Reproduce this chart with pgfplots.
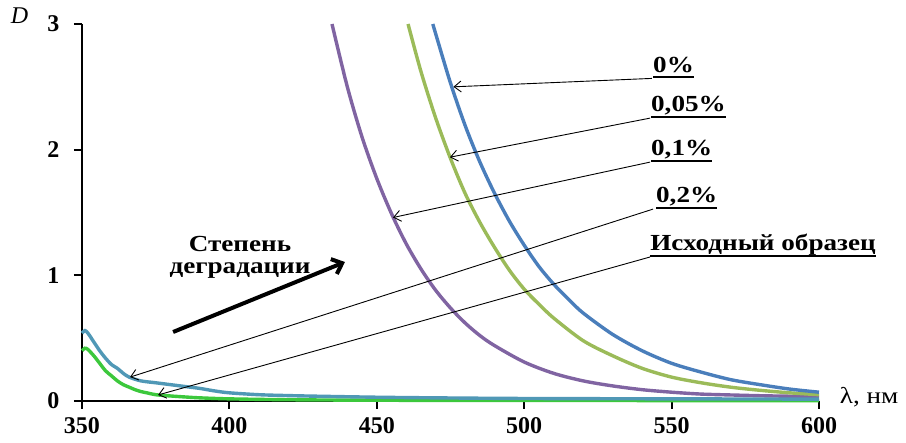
\documentclass[border=0pt]{standalone}
\usepackage{fontspec}
\setmainfont{Liberation Serif}
\newfontfamily\annfont[FakeStretch=1.18]{Liberation Serif}
\usepackage{pgfplots}
\pgfplotsset{compat=1.18}
\usetikzlibrary{arrows.meta}

\definecolor{cZero}{RGB}{74,126,187}
\definecolor{cFive}{RGB}{155,187,89}
\definecolor{cTen}{RGB}{128,100,162}
\definecolor{cTwenty}{RGB}{80,152,182}
\definecolor{cBase}{RGB}{60,200,60}

% thick underline for the series labels
\newcommand\ul[1]{\setbox0\hbox{#1}\rlap{\rule[-6pt]{\wd0}{1.8pt}}\box0}

\begin{document}
\begin{tikzpicture}
\path[use as bounding box] (0,0) rectangle (906pt,443pt);
\begin{axis}[
  at={(82pt,42pt)}, anchor=south west,
  scale only axis, width=737pt, height=377pt,
  xmin=350, xmax=600, ymin=0, ymax=3,
  axis x line*=bottom, axis y line*=left,
  axis line style={line width=2.4pt, black},
  xtick={350,400,450,500,550,600}, ytick={0,1,2,3},
  tick align=outside, major tick length=8pt,
  tick style={line width=2pt, black},
  /pgf/number format/assume math mode=true,
  ticklabel style={font=\fontsize{24}{24}\selectfont\bfseries},
  yticklabel style={xshift=-11pt},
  xticklabel style={yshift=-5pt},
  clip=false,
  every axis plot/.append style={line width=3.4pt, smooth, no markers},
]
% 0,1 %
\addplot[cTen] coordinates {
 (434.8,3.00) (440,2.50) (445,2.10) (450,1.77) (455,1.49) (460,1.25)
 (465,1.05) (470,0.88) (475,0.74) (480,0.62) (485,0.52) (490,0.44)
 (500,0.31) (510,0.22) (520,0.16) (530,0.12) (540,0.09) (550,0.07)
 (560,0.055) (570,0.048) (580,0.042) (590,0.038) (600,0.035)};
% 0,05 %
\addplot[cFive] coordinates {
 (460.6,3.00) (465,2.62) (470,2.25) (475,1.93) (480,1.65) (485,1.42)
 (490,1.22) (495,1.04) (500,0.89) (505,0.77) (510,0.66) (520,0.48)
 (530,0.36) (540,0.26) (550,0.19) (560,0.145) (570,0.11) (580,0.085)
 (590,0.065) (600,0.05)};
% 0 %
\addplot[cZero] coordinates {
 (469,3.00) (470,2.92) (475,2.53) (480,2.19) (485,1.90) (490,1.65)
 (495,1.43) (500,1.24) (505,1.07) (510,0.93) (515,0.81) (520,0.70)
 (530,0.53) (540,0.40) (550,0.30) (560,0.23) (570,0.17) (580,0.13)
 (590,0.095) (600,0.07)};
% original sample
\addplot[cBase] coordinates {
 (350,0.40) (351,0.42) (352,0.41) (354,0.36) (356,0.30) (358,0.24)
 (360,0.20) (362,0.16) (364,0.13) (366,0.11) (368,0.09) (370,0.075)
 (372,0.065) (375,0.05) (380,0.04) (385,0.032) (390,0.025) (400,0.017)
 (420,0.01) (450,0.006) (500,0.004) (600,0.003)};
% 0,2 %
\addplot[cTwenty] coordinates {
 (350,0.54) (351,0.56) (352,0.54) (354,0.47) (356,0.40) (358,0.34)
 (360,0.29) (362,0.26) (364,0.22) (366,0.19) (370,0.16) (375,0.145)
 (380,0.13) (385,0.115) (390,0.10) (395,0.08) (400,0.065) (410,0.05)
 (420,0.043) (430,0.038) (450,0.03) (470,0.025) (500,0.02) (550,0.017)
 (600,0.015)};

% leaders from the labels to their curves
\tikzset{lead/.style={line width=0.9pt, black, -{Straight Barb[length=7pt,width=11pt]}},
         lab/.style={anchor=base west, inner sep=0pt,
                     font=\annfont\fontsize{23}{23}\selectfont\bfseries}}
\draw[lead] (axis cs:543.3,2.567) -- (axis cs:476,2.50);
\draw[lead] (axis cs:542.7,2.251) -- (axis cs:474.8,1.94);
\draw[lead] (axis cs:542.7,1.901) -- (axis cs:455.5,1.46);
\draw[lead] (axis cs:543.7,1.527) -- (axis cs:366.3,0.19);
\draw[lead] (axis cs:542.7,1.146) -- (axis cs:375.8,0.048);

\node[lab] at (axis cs:543.7,2.617) {\ul{0\%}};
\node[lab] at (axis cs:543.0,2.301) {\ul{0,05\%}};
\node[lab] at (axis cs:543.0,1.951) {\ul{0,1\%}};
\node[lab] at (axis cs:544.7,1.577) {\ul{0,2\%}};
\node[lab] at (axis cs:542.7,1.196) {\ul{Исходный образец}};

% direction of degradation
\draw[line width=4pt, black, -{Straight Barb[length=9pt,width=16pt]}]
  (axis cs:380.9,0.549) -- (axis cs:439.2,1.106);
\node[align=center, inner sep=0pt, font=\annfont\fontsize{23}{22}\selectfont\bfseries]
  at (axis cs:403.6,1.14) {Степень\\деградации};

% axis names
\node[inner sep=0pt, font=\fontsize{24}{24}\selectfont\itshape]
  at (axis cs:328.8,3.07) {D};
\node[anchor=base west, inner sep=0pt, font=\annfont\fontsize{23}{23}\selectfont]
  at (axis cs:607,-0.016) {λ, нм};
\end{axis}
\end{tikzpicture}
\end{document}
